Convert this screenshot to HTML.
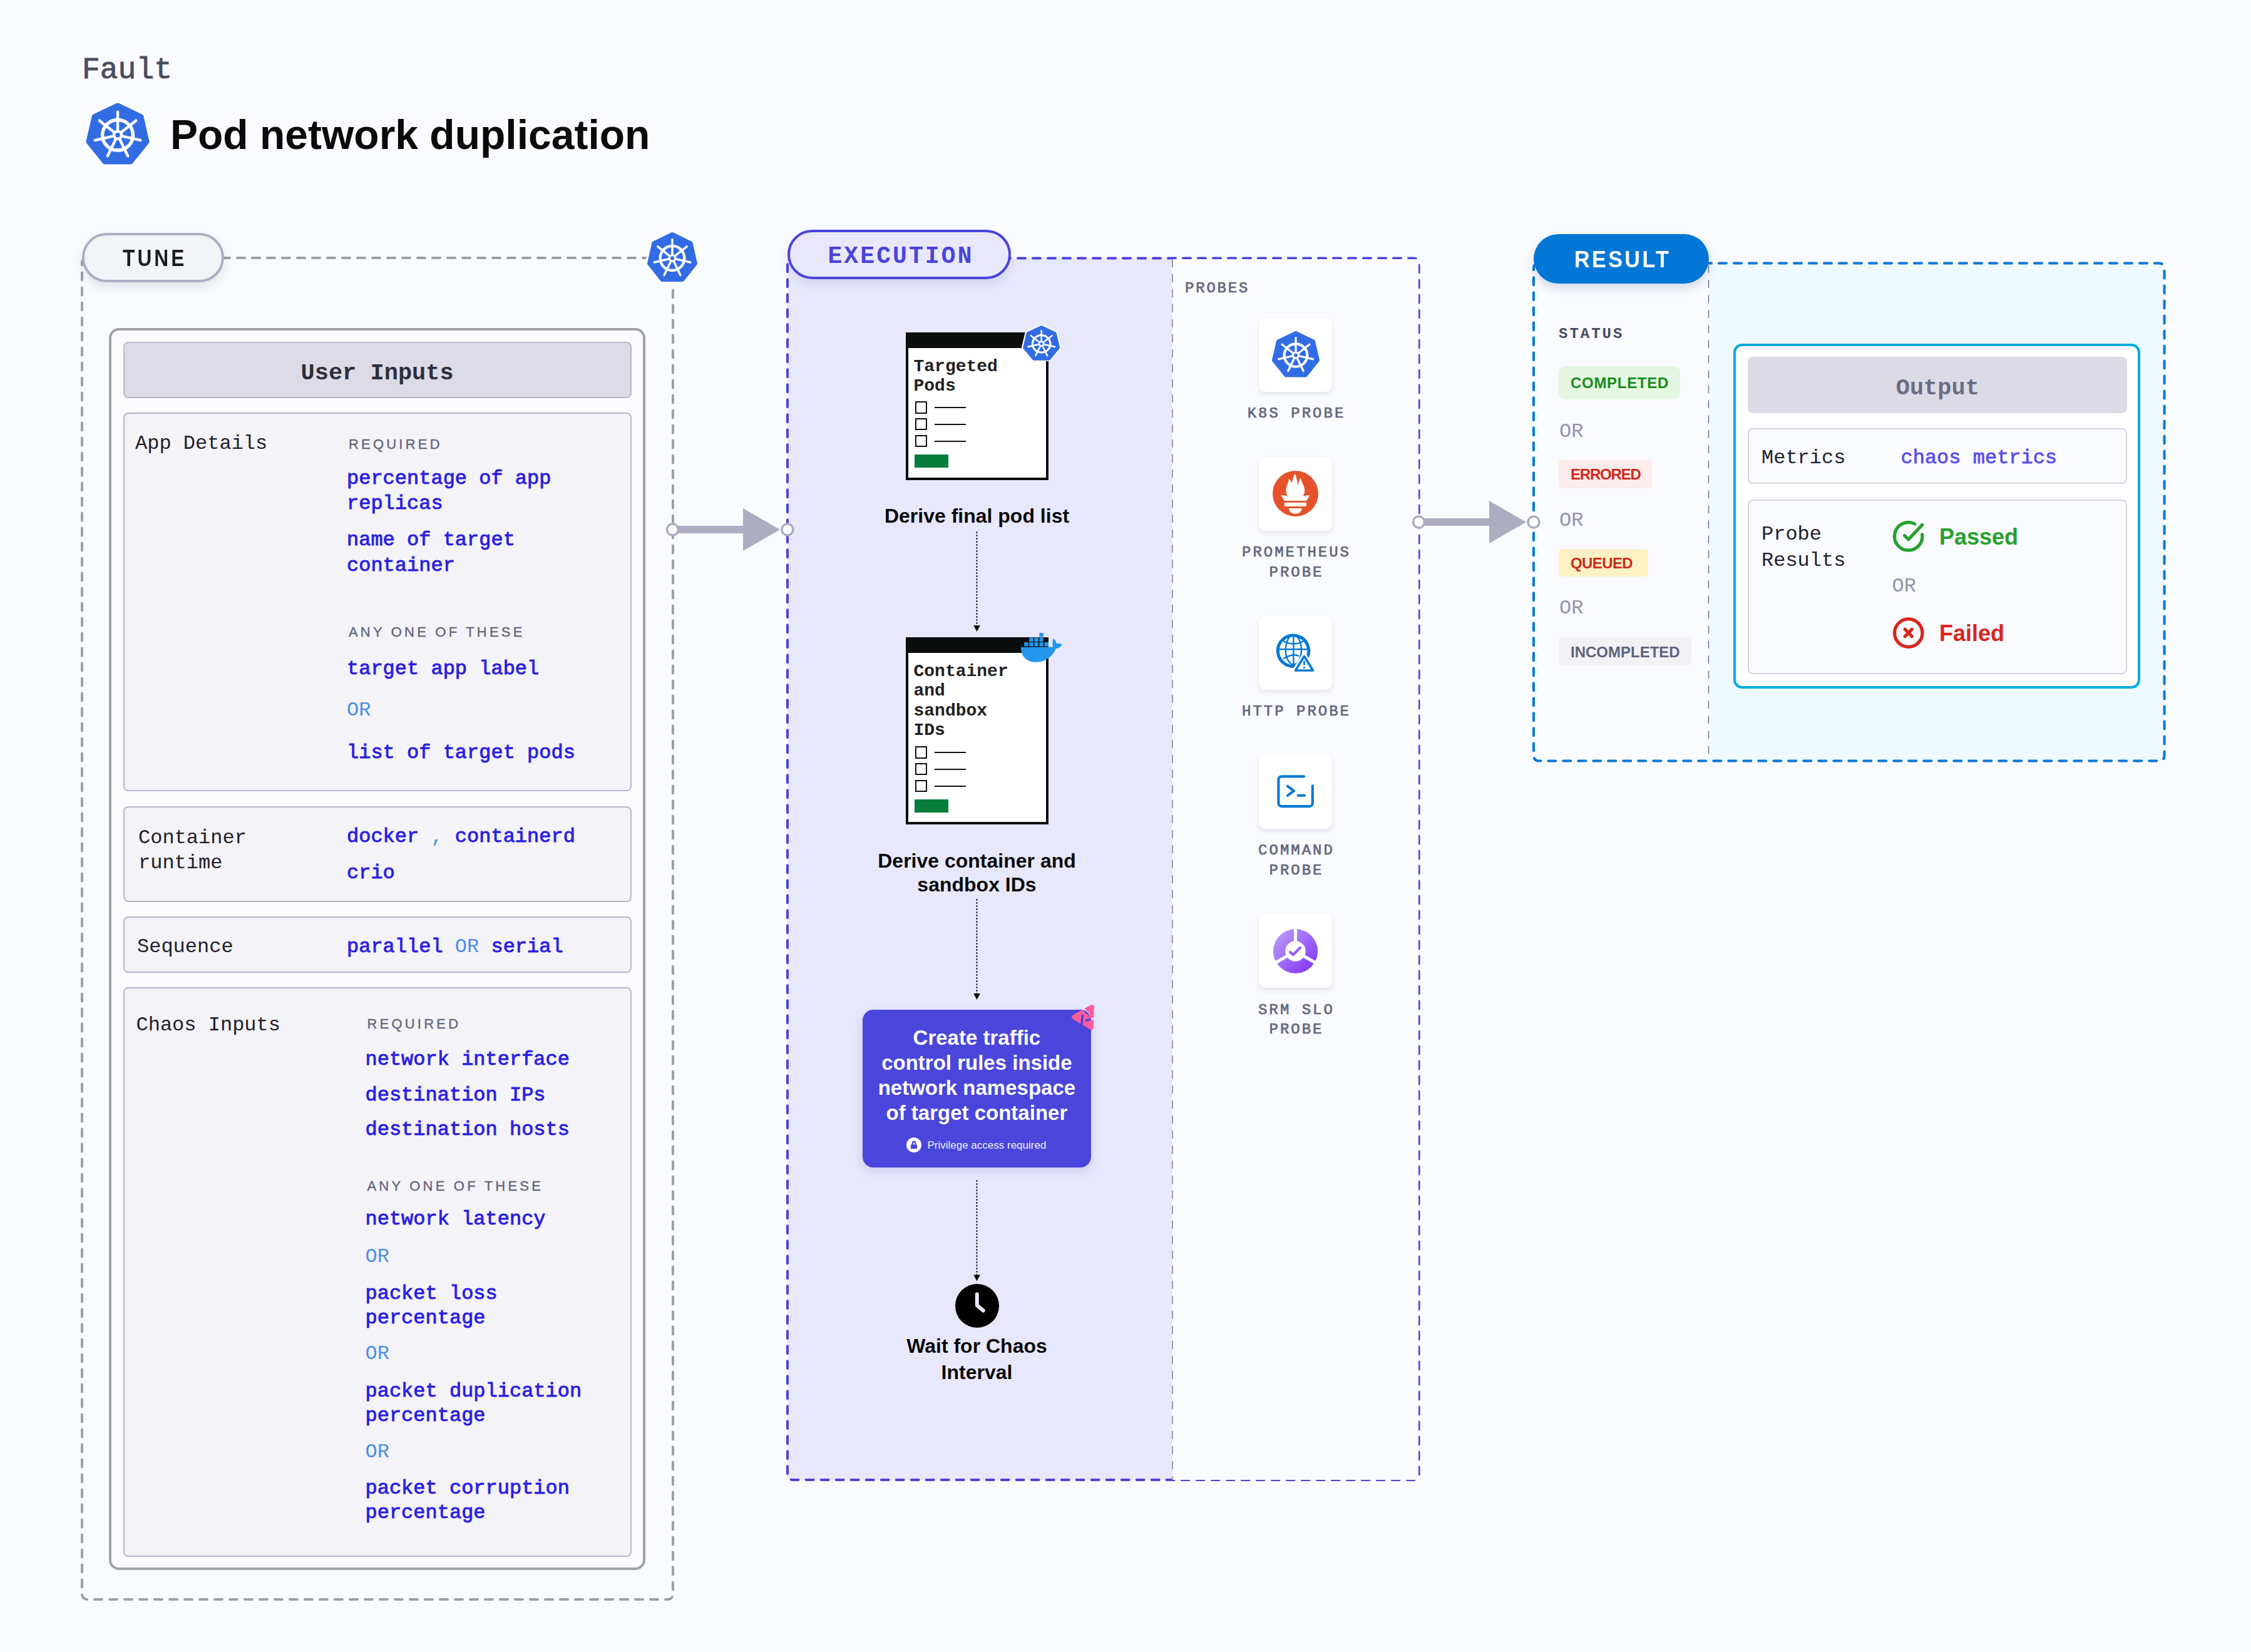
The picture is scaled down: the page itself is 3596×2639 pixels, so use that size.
<!DOCTYPE html><html><head><meta charset="utf-8"><style>html,body{margin:0;padding:0;}body{width:3596px;height:2639px;position:relative;overflow:hidden;background:#FAFBFE;}.t{position:absolute;white-space:pre;}.r{position:absolute;}</style></head><body><svg class="r" style="left:0;top:0;width:3596px;height:2639px" viewBox="0 0 3596 2639"><rect x="1258" y="412.5" width="615" height="1951.5" rx="6" fill="#E8E8FD"/><rect x="2730" y="420.5" width="727.6" height="795" fill="#EFFAFE"/><rect x="131" y="412" width="944" height="2143" rx="8" fill="none" stroke="#9A9FA8" stroke-width="4" stroke-dasharray="12 12" stroke-linecap="round"/><rect x="1258" y="412.5" width="1008.5999999999999" height="1951.5" rx="8" fill="none" stroke="#4A43DB" stroke-width="4" stroke-dasharray="12 12" stroke-linecap="round"/><rect x="1874" y="414" width="392" height="1950" fill="#FAFBFE"/><rect x="2450" y="420.5" width="1007.5999999999999" height="795.0999999999999" rx="8" fill="none" stroke="#0277D6" stroke-width="4" stroke-dasharray="12 12" stroke-linecap="round"/><line x1="1873" y1="414" x2="1873" y2="2364" stroke="#9C9DB0" stroke-width="2" stroke-dasharray="13 11"/><line x1="2729.5" y1="424" x2="2729.5" y2="1214" stroke="#6A6D85" stroke-width="1.4" stroke-dasharray="11.6 12.4" stroke-linecap="round"/><line x1="1074.5" y1="846" x2="1189" y2="846" stroke="#ADADC2" stroke-width="12"/><polygon points="1187,812 1246,846 1187,880" fill="#ADADC2"/><circle cx="1074.5" cy="846" r="9" fill="#fff" stroke="#ADADC2" stroke-width="3.5"/><circle cx="1258" cy="846" r="9" fill="#fff" stroke="#ADADC2" stroke-width="3.5"/><line x1="2266.6" y1="834" x2="2381" y2="834" stroke="#ADADC2" stroke-width="12"/><polygon points="2379,800 2438,834 2379,868" fill="#ADADC2"/><circle cx="2266.6" cy="834" r="9" fill="#fff" stroke="#ADADC2" stroke-width="3.5"/><circle cx="2450" cy="834" r="9" fill="#fff" stroke="#ADADC2" stroke-width="3.5"/><line x1="1560.5" y1="850" x2="1560.5" y2="1000" stroke="#111" stroke-width="2" stroke-dasharray="1 4" stroke-linecap="round"/><polygon points="1555.1,999 1565.9,999 1560.5,1009" fill="#111"/><line x1="1560.5" y1="1437" x2="1560.5" y2="1588" stroke="#111" stroke-width="2" stroke-dasharray="1 4" stroke-linecap="round"/><polygon points="1555.1,1587 1565.9,1587 1560.5,1597" fill="#111"/><line x1="1560.5" y1="1886" x2="1560.5" y2="2037.5" stroke="#111" stroke-width="2" stroke-dasharray="1 4" stroke-linecap="round"/><polygon points="1555.1,2036.5 1565.9,2036.5 1560.5,2046.5" fill="#111"/></svg>
<div class="t" style="left:131.0px;top:82.3px;font-family:'Liberation Mono', monospace;font-size:48px;line-height:60px;font-weight:400;color:#4B4D60;-webkit-text-stroke:0.9px #4B4D60;">Fault</div>
<svg class="r" style="left:134.2px;top:160.7px;width:108.1px;height:104.9px" viewBox="-6.40 -7.65 112.80 110.35" preserveAspectRatio="none"><polygon points="50.00,0.00 89.09,18.83 98.75,61.13 71.69,95.05 28.31,95.05 1.25,61.13 10.91,18.83" fill="#fff" stroke="#fff" stroke-width="15.30" stroke-linejoin="round"/><polygon points="50.00,0.00 89.09,18.83 98.75,61.13 71.69,95.05 28.31,95.05 1.25,61.13 10.91,18.83" fill="#326CE5" stroke="#326CE5" stroke-width="8" stroke-linejoin="round"/><circle cx="50" cy="50" r="25.5" fill="none" stroke="#fff" stroke-width="5.8"/><g stroke="#fff" stroke-width="4.6" stroke-linecap="round"><line x1="50" y1="50" x2="50.00" y2="11.00"/><line x1="50" y1="50" x2="80.49" y2="25.68"/><line x1="50" y1="50" x2="88.02" y2="58.68"/><line x1="50" y1="50" x2="66.92" y2="85.14"/><line x1="50" y1="50" x2="33.08" y2="85.14"/><line x1="50" y1="50" x2="11.98" y2="58.68"/><line x1="50" y1="50" x2="19.51" y2="25.68"/></g><circle cx="50" cy="50" r="8.5" fill="#fff"/><circle cx="50" cy="50" r="4" fill="#326CE5"/></svg>
<div class="t" style="left:272.0px;top:174.3px;font-family:'Liberation Sans', sans-serif;font-size:66px;line-height:82px;font-weight:700;color:#0A0A0A;">Pod network duplication</div>
<div class="r" style="left:131.3px;top:372px;width:227.2px;height:79px;background:#F3F4F8;border:4px solid #AEAFC4;border-radius:40px;box-sizing:border-box;box-shadow:0 8px 16px rgba(30,30,60,0.10);"></div>
<div class="t" style="left:96.8px;top:390.3px;font-family:'Liberation Sans', sans-serif;font-size:36px;line-height:45px;font-weight:700;color:#1B1D21;letter-spacing:4.6px;width:300px;text-align:center;"><span style="display:inline-block;transform:scaleX(0.88);transform-origin:center">TUNE</span></div>
<svg class="r" style="left:1031.0px;top:368.0px;width:86.0px;height:85.0px" viewBox="-6.71 -7.96 113.41 110.96" preserveAspectRatio="none"><polygon points="50.00,0.00 89.09,18.83 98.75,61.13 71.69,95.05 28.31,95.05 1.25,61.13 10.91,18.83" fill="#fff" stroke="#fff" stroke-width="15.91" stroke-linejoin="round"/><polygon points="50.00,0.00 89.09,18.83 98.75,61.13 71.69,95.05 28.31,95.05 1.25,61.13 10.91,18.83" fill="#326CE5" stroke="#326CE5" stroke-width="8" stroke-linejoin="round"/><circle cx="50" cy="50" r="25.5" fill="none" stroke="#fff" stroke-width="5.8"/><g stroke="#fff" stroke-width="4.6" stroke-linecap="round"><line x1="50" y1="50" x2="50.00" y2="11.00"/><line x1="50" y1="50" x2="80.49" y2="25.68"/><line x1="50" y1="50" x2="88.02" y2="58.68"/><line x1="50" y1="50" x2="66.92" y2="85.14"/><line x1="50" y1="50" x2="33.08" y2="85.14"/><line x1="50" y1="50" x2="11.98" y2="58.68"/><line x1="50" y1="50" x2="19.51" y2="25.68"/></g><circle cx="50" cy="50" r="8.5" fill="#fff"/><circle cx="50" cy="50" r="4" fill="#326CE5"/></svg>
<div class="r" style="left:174px;top:523.5px;width:857px;height:1984.0px;background:#FCFCFE;border:4px solid #9FA3A9;border-radius:16px;box-sizing:border-box;"></div>
<div class="r" style="left:196.5px;top:545.5px;width:812.5px;height:90.5px;background:#DCDBE6;border:2px solid #B9B8CB;border-radius:8px;box-sizing:border-box;"></div>
<div class="t" style="left:202.6px;top:573.2px;font-family:'Liberation Mono', monospace;font-size:37px;line-height:46px;font-weight:700;color:#2E2F3B;width:800px;text-align:center;">User Inputs</div>
<div class="r" style="left:196.5px;top:659px;width:812.0px;height:605px;background:#F3F3F8;border:2px solid #B6B5C8;border-radius:8px;box-sizing:border-box;"></div>
<div class="r" style="left:196.5px;top:1287.5px;width:812.0px;height:153.0px;background:#F3F3F8;border:2px solid #B6B5C8;border-radius:8px;box-sizing:border-box;"></div>
<div class="r" style="left:196.5px;top:1463.5px;width:812.0px;height:90.0px;background:#F3F3F8;border:2px solid #B6B5C8;border-radius:8px;box-sizing:border-box;"></div>
<div class="r" style="left:196.5px;top:1577px;width:812.0px;height:910px;background:#F3F3F8;border:2px solid #B6B5C8;border-radius:8px;box-sizing:border-box;"></div>
<div class="t" style="left:216.0px;top:688.5px;font-family:'Liberation Mono', monospace;font-size:32px;line-height:40px;font-weight:400;color:#1F2029;">App Details</div>
<div class="t" style="left:557.0px;top:695.8px;font-family:'Liberation Sans', sans-serif;font-size:22px;line-height:28px;font-weight:400;color:#62637A;letter-spacing:4.2px;-webkit-text-stroke:0.35px #62637A;">REQUIRED</div>
<div class="t" style="left:554.0px;top:745.3px;font-family:'Liberation Mono', monospace;font-size:32px;line-height:40px;font-weight:400;color:#2B1EE3;-webkit-text-stroke:0.9px #2B1EE3;">percentage of app</div>
<div class="t" style="left:554.0px;top:785.0px;font-family:'Liberation Mono', monospace;font-size:32px;line-height:40px;font-weight:400;color:#2B1EE3;-webkit-text-stroke:0.9px #2B1EE3;">replicas</div>
<div class="t" style="left:554.0px;top:843.3px;font-family:'Liberation Mono', monospace;font-size:32px;line-height:40px;font-weight:400;color:#2B1EE3;-webkit-text-stroke:0.9px #2B1EE3;">name of target</div>
<div class="t" style="left:554.0px;top:884.2px;font-family:'Liberation Mono', monospace;font-size:32px;line-height:40px;font-weight:400;color:#2B1EE3;-webkit-text-stroke:0.9px #2B1EE3;">container</div>
<div class="t" style="left:557.0px;top:995.7px;font-family:'Liberation Sans', sans-serif;font-size:22px;line-height:28px;font-weight:400;color:#62637A;letter-spacing:4.2px;-webkit-text-stroke:0.35px #62637A;">ANY ONE OF THESE</div>
<div class="t" style="left:554.0px;top:1048.5px;font-family:'Liberation Mono', monospace;font-size:32px;line-height:40px;font-weight:400;color:#2B1EE3;-webkit-text-stroke:0.9px #2B1EE3;">target app label</div>
<div class="t" style="left:554.0px;top:1115.1px;font-family:'Liberation Mono', monospace;font-size:32px;line-height:40px;font-weight:400;color:#4A8FE7;">OR</div>
<div class="t" style="left:554.0px;top:1182.5px;font-family:'Liberation Mono', monospace;font-size:32px;line-height:40px;font-weight:400;color:#2B1EE3;-webkit-text-stroke:0.9px #2B1EE3;">list of target pods</div>
<div class="t" style="left:221.0px;top:1319.1px;font-family:'Liberation Mono', monospace;font-size:32px;line-height:40px;font-weight:400;color:#1F2029;">Container</div>
<div class="t" style="left:221.0px;top:1359.2px;font-family:'Liberation Mono', monospace;font-size:32px;line-height:40px;font-weight:400;color:#1F2029;">runtime</div>
<div class="t" style="left:554.0px;top:1316.9px;font-family:'Liberation Mono', monospace;font-size:32px;line-height:40px;font-weight:400;color:#2B1EE3;-webkit-text-stroke:0.9px #2B1EE3;">docker <span style="color:#4A8FE7;-webkit-text-stroke:0">,</span> containerd</div>
<div class="t" style="left:554.0px;top:1375.3px;font-family:'Liberation Mono', monospace;font-size:32px;line-height:40px;font-weight:400;color:#2B1EE3;-webkit-text-stroke:0.9px #2B1EE3;">crio</div>
<div class="t" style="left:219.0px;top:1493.0px;font-family:'Liberation Mono', monospace;font-size:32px;line-height:40px;font-weight:400;color:#1F2029;">Sequence</div>
<div class="t" style="left:554.0px;top:1493.0px;font-family:'Liberation Mono', monospace;font-size:32px;line-height:40px;font-weight:400;color:#2B1EE3;-webkit-text-stroke:0.9px #2B1EE3;">parallel <span style="color:#4A8FE7;-webkit-text-stroke:0">OR</span> serial</div>
<div class="t" style="left:217.5px;top:1617.5px;font-family:'Liberation Mono', monospace;font-size:32px;line-height:40px;font-weight:400;color:#1F2029;">Chaos Inputs</div>
<div class="t" style="left:586.5px;top:1622.1px;font-family:'Liberation Sans', sans-serif;font-size:22px;line-height:28px;font-weight:400;color:#62637A;letter-spacing:4.2px;-webkit-text-stroke:0.35px #62637A;">REQUIRED</div>
<div class="t" style="left:583.5px;top:1673.1px;font-family:'Liberation Mono', monospace;font-size:32px;line-height:40px;font-weight:400;color:#2B1EE3;-webkit-text-stroke:0.9px #2B1EE3;">network interface</div>
<div class="t" style="left:583.5px;top:1729.8px;font-family:'Liberation Mono', monospace;font-size:32px;line-height:40px;font-weight:400;color:#2B1EE3;-webkit-text-stroke:0.9px #2B1EE3;">destination IPs</div>
<div class="t" style="left:583.5px;top:1785.2px;font-family:'Liberation Mono', monospace;font-size:32px;line-height:40px;font-weight:400;color:#2B1EE3;-webkit-text-stroke:0.9px #2B1EE3;">destination hosts</div>
<div class="t" style="left:586.5px;top:1881.4px;font-family:'Liberation Sans', sans-serif;font-size:22px;line-height:28px;font-weight:400;color:#62637A;letter-spacing:4.2px;-webkit-text-stroke:0.35px #62637A;">ANY ONE OF THESE</div>
<div class="t" style="left:583.5px;top:1928.1px;font-family:'Liberation Mono', monospace;font-size:32px;line-height:40px;font-weight:400;color:#2B1EE3;-webkit-text-stroke:0.9px #2B1EE3;">network latency</div>
<div class="t" style="left:583.5px;top:1987.9px;font-family:'Liberation Mono', monospace;font-size:32px;line-height:40px;font-weight:400;color:#4A8FE7;">OR</div>
<div class="t" style="left:583.5px;top:2046.5px;font-family:'Liberation Mono', monospace;font-size:32px;line-height:40px;font-weight:400;color:#2B1EE3;-webkit-text-stroke:0.9px #2B1EE3;">packet loss</div>
<div class="t" style="left:583.5px;top:2085.5px;font-family:'Liberation Mono', monospace;font-size:32px;line-height:40px;font-weight:400;color:#2B1EE3;-webkit-text-stroke:0.9px #2B1EE3;">percentage</div>
<div class="t" style="left:583.5px;top:2143.4px;font-family:'Liberation Mono', monospace;font-size:32px;line-height:40px;font-weight:400;color:#4A8FE7;">OR</div>
<div class="t" style="left:583.5px;top:2202.5px;font-family:'Liberation Mono', monospace;font-size:32px;line-height:40px;font-weight:400;color:#2B1EE3;-webkit-text-stroke:0.9px #2B1EE3;">packet duplication</div>
<div class="t" style="left:583.5px;top:2241.5px;font-family:'Liberation Mono', monospace;font-size:32px;line-height:40px;font-weight:400;color:#2B1EE3;-webkit-text-stroke:0.9px #2B1EE3;">percentage</div>
<div class="t" style="left:583.5px;top:2299.5px;font-family:'Liberation Mono', monospace;font-size:32px;line-height:40px;font-weight:400;color:#4A8FE7;">OR</div>
<div class="t" style="left:583.5px;top:2358.0px;font-family:'Liberation Mono', monospace;font-size:32px;line-height:40px;font-weight:400;color:#2B1EE3;-webkit-text-stroke:0.9px #2B1EE3;">packet corruption</div>
<div class="t" style="left:583.5px;top:2397.0px;font-family:'Liberation Mono', monospace;font-size:32px;line-height:40px;font-weight:400;color:#2B1EE3;-webkit-text-stroke:0.9px #2B1EE3;">percentage</div>
<div class="r" style="left:1258px;top:367.1px;width:357.20000000000005px;height:78.5px;background:#E8E8FD;border:4px solid #4A43DB;border-radius:40px;box-sizing:border-box;box-shadow:0 8px 16px rgba(40,40,120,0.10);"></div>
<div class="t" style="left:1239.0px;top:386.3px;font-family:'Liberation Mono', monospace;font-size:38px;line-height:48px;font-weight:700;color:#4A43DB;letter-spacing:3.1px;width:400px;text-align:center;">EXECUTION</div>
<div class="r" style="left:1446.5px;top:531.1px;width:228.0px;height:235.89999999999998px;background:#fff;border:4.2px solid #0B0C0C;box-sizing:border-box;"></div>
<div class="r" style="left:1446.5px;top:531.1px;width:228.0px;height:25.100000000000023px;background:#0B0C0C;"></div>
<div class="t" style="left:1459.5px;top:567.6px;font-family:'Liberation Mono', monospace;font-size:28px;line-height:35px;font-weight:700;color:#231F20;">Targeted</div>
<div class="t" style="left:1459.5px;top:599.3px;font-family:'Liberation Mono', monospace;font-size:28px;line-height:35px;font-weight:700;color:#231F20;">Pods</div>
<div class="r" style="left:1461.6px;top:641.2px;width:19.600000000000136px;height:19.600000000000023px;border:2.5px solid #111;box-sizing:border-box;background:#fff;"></div>
<div class="r" style="left:1492.6px;top:650.2px;width:50.90000000000009px;height:2.0px;background:#111;"></div>
<div class="r" style="left:1461.6px;top:667.9000000000001px;width:19.600000000000136px;height:19.600000000000023px;border:2.5px solid #111;box-sizing:border-box;background:#fff;"></div>
<div class="r" style="left:1492.6px;top:676.9000000000001px;width:50.90000000000009px;height:2.0px;background:#111;"></div>
<div class="r" style="left:1461.6px;top:694.6px;width:19.600000000000136px;height:19.600000000000023px;border:2.5px solid #111;box-sizing:border-box;background:#fff;"></div>
<div class="r" style="left:1492.6px;top:703.6px;width:50.90000000000009px;height:2.0px;background:#111;"></div>
<div class="r" style="left:1461px;top:725.8000000000001px;width:54px;height:20.799999999999955px;background:#067D3A;"></div>
<svg class="r" style="left:1631.8px;top:517.6px;width:63.4px;height:59.9px" viewBox="-6.68 -7.93 113.37 110.92" preserveAspectRatio="none"><polygon points="50.00,0.00 89.09,18.83 98.75,61.13 71.69,95.05 28.31,95.05 1.25,61.13 10.91,18.83" fill="#fff" stroke="#fff" stroke-width="15.87" stroke-linejoin="round"/><polygon points="50.00,0.00 89.09,18.83 98.75,61.13 71.69,95.05 28.31,95.05 1.25,61.13 10.91,18.83" fill="#326CE5" stroke="#326CE5" stroke-width="8" stroke-linejoin="round"/><circle cx="50" cy="50" r="25.5" fill="none" stroke="#fff" stroke-width="5.8"/><g stroke="#fff" stroke-width="4.6" stroke-linecap="round"><line x1="50" y1="50" x2="50.00" y2="11.00"/><line x1="50" y1="50" x2="80.49" y2="25.68"/><line x1="50" y1="50" x2="88.02" y2="58.68"/><line x1="50" y1="50" x2="66.92" y2="85.14"/><line x1="50" y1="50" x2="33.08" y2="85.14"/><line x1="50" y1="50" x2="11.98" y2="58.68"/><line x1="50" y1="50" x2="19.51" y2="25.68"/></g><circle cx="50" cy="50" r="8.5" fill="#fff"/><circle cx="50" cy="50" r="4" fill="#326CE5"/></svg>
<div class="r" style="left:1446.5px;top:1017.8px;width:228.0px;height:299.60000000000014px;background:#fff;border:4.2px solid #0B0C0C;box-sizing:border-box;"></div>
<div class="r" style="left:1446.5px;top:1017.8px;width:228.0px;height:25.600000000000136px;background:#0B0C0C;"></div>
<div class="t" style="left:1459.5px;top:1054.5px;font-family:'Liberation Mono', monospace;font-size:28px;line-height:35px;font-weight:700;color:#231F20;">Container</div>
<div class="t" style="left:1459.5px;top:1086.1px;font-family:'Liberation Mono', monospace;font-size:28px;line-height:35px;font-weight:700;color:#231F20;">and</div>
<div class="t" style="left:1459.5px;top:1117.7px;font-family:'Liberation Mono', monospace;font-size:28px;line-height:35px;font-weight:700;color:#231F20;">sandbox</div>
<div class="t" style="left:1459.5px;top:1149.3px;font-family:'Liberation Mono', monospace;font-size:28px;line-height:35px;font-weight:700;color:#231F20;">IDs</div>
<div class="r" style="left:1461.6px;top:1192.2px;width:19.600000000000136px;height:19.59999999999991px;border:2.5px solid #111;box-sizing:border-box;background:#fff;"></div>
<div class="r" style="left:1492.6px;top:1201.2px;width:50.90000000000009px;height:2.0px;background:#111;"></div>
<div class="r" style="left:1461.6px;top:1218.9px;width:19.600000000000136px;height:19.59999999999991px;border:2.5px solid #111;box-sizing:border-box;background:#fff;"></div>
<div class="r" style="left:1492.6px;top:1227.9px;width:50.90000000000009px;height:2.0px;background:#111;"></div>
<div class="r" style="left:1461.6px;top:1245.6000000000001px;width:19.600000000000136px;height:19.59999999999991px;border:2.5px solid #111;box-sizing:border-box;background:#fff;"></div>
<div class="r" style="left:1492.6px;top:1254.6000000000001px;width:50.90000000000009px;height:2.0px;background:#111;"></div>
<div class="r" style="left:1461px;top:1276.8px;width:54px;height:20.799999999999955px;background:#067D3A;"></div>
<svg class="r" style="left:1629.5px;top:1009.8px;width:70px;height:50px" viewBox="0 0 70 50"><g fill="#2496ED"><rect x="6.2" y="16" width="6.5" height="6.4"/><rect x="14.2" y="16" width="6.5" height="6.4"/><rect x="22.3" y="16" width="6.5" height="6.4"/><rect x="30.3" y="16" width="6.5" height="6.4"/><rect x="38.4" y="16" width="6.5" height="6.4"/><rect x="14.2" y="8.6" width="6.5" height="6.4"/><rect x="22.3" y="8.6" width="6.5" height="6.4"/><rect x="30.3" y="8.6" width="6.5" height="6.4"/><rect x="30.3" y="1" width="6.5" height="6.2"/><path d="M0.7,23.7 L52,23.5 C51,19 51,14 52.8,10.1 C55.5,12 57,15 57.2,17.8 C60,17 64,17.5 66.8,19.9 C64,24 60,26 56.6,26.2 C51,40 38,47.8 24.4,47.8 C10,47.8 1,38 0.7,23.7 Z"/></g></svg>
<div class="t" style="left:1260.5px;top:803.6px;font-family:'Liberation Sans', sans-serif;font-size:32px;line-height:40px;font-weight:700;color:#0A0A0A;width:600px;text-align:center;">Derive final pod list</div>
<div class="t" style="left:1260.5px;top:1354.5px;font-family:'Liberation Sans', sans-serif;font-size:32px;line-height:40px;font-weight:700;color:#0A0A0A;width:600px;text-align:center;">Derive container and</div>
<div class="t" style="left:1260.5px;top:1392.6px;font-family:'Liberation Sans', sans-serif;font-size:32px;line-height:40px;font-weight:700;color:#0A0A0A;width:600px;text-align:center;">sandbox IDs</div>
<div class="r" style="left:1377.8px;top:1612.8px;width:365.20000000000005px;height:251.9000000000001px;background:#4A46DC;border-radius:17px;box-shadow:0 6px 18px rgba(60,60,160,0.16);"></div>
<div class="t" style="left:1310.4px;top:1637.3px;font-family:'Liberation Sans', sans-serif;font-size:33px;line-height:41px;font-weight:700;color:#FFFFFF;width:500px;text-align:center;">Create traffic</div>
<div class="t" style="left:1310.4px;top:1677.1px;font-family:'Liberation Sans', sans-serif;font-size:33px;line-height:41px;font-weight:700;color:#FFFFFF;width:500px;text-align:center;">control rules inside</div>
<div class="t" style="left:1310.4px;top:1716.9px;font-family:'Liberation Sans', sans-serif;font-size:33px;line-height:41px;font-weight:700;color:#FFFFFF;width:500px;text-align:center;">network namespace</div>
<div class="t" style="left:1310.4px;top:1756.7px;font-family:'Liberation Sans', sans-serif;font-size:33px;line-height:41px;font-weight:700;color:#FFFFFF;width:500px;text-align:center;">of target container</div>
<div class="t" style="left:1376.4px;top:1818.6px;font-family:'Liberation Sans', sans-serif;font-size:17px;line-height:21px;font-weight:400;color:#F0F0FF;width:400px;text-align:center;">Privilege access required</div>
<svg class="r" style="left:1448px;top:1816.8px;width:24px;height:24px" viewBox="0 0 24 24"><circle cx="12" cy="12" r="12" fill="#fff"/><path d="M9.9,11.5 V8.7 A2.1,2.1 0 0 1 14.1,8.7 V11.5" fill="none" stroke="#4A46DC" stroke-width="2.3"/><rect x="6.9" y="11.3" width="10.1" height="6.7" fill="#4A46DC"/></svg>
<svg class="r" style="left:1705px;top:1598px;width:50px;height:54px" viewBox="1705 1598 50 54"><defs><mask id="pm" maskUnits="userSpaceOnUse" x="1705" y="1598" width="50" height="54"><rect x="1705" y="1598" width="50" height="54" fill="#fff"/><g stroke="#000" stroke-width="3.6" stroke-linecap="round"><line x1="1729.4" y1="1622.6" x2="1726.6" y2="1648"/><line x1="1739.4" y1="1620.4" x2="1727" y2="1609"/><line x1="1735.4" y1="1629.9" x2="1752" y2="1626"/></g></mask></defs><polygon mask="url(#pm)" points="1744.2,1608.5 1715.5,1624.8 1743.3,1641.6" fill="#FF5C9D" stroke="#FF5C9D" stroke-width="7" stroke-linejoin="round"/></svg>
<svg class="r" style="left:1525.5px;top:2050.9px;width:70px;height:70px" viewBox="0 0 70 70"><circle cx="35" cy="35" r="35" fill="#000"/><path d="M34.8,16.5 V34.2 L44.8,42.6" fill="none" stroke="#E8E8FD" stroke-width="6" stroke-linecap="round" stroke-linejoin="round"/></svg>
<div class="t" style="left:1260.5px;top:2130.2px;font-family:'Liberation Sans', sans-serif;font-size:32px;line-height:40px;font-weight:700;color:#0A0A0A;width:600px;text-align:center;">Wait for Chaos</div>
<div class="t" style="left:1260.5px;top:2171.7px;font-family:'Liberation Sans', sans-serif;font-size:32px;line-height:40px;font-weight:700;color:#0A0A0A;width:600px;text-align:center;">Interval</div>
<div class="t" style="left:1893.0px;top:445.7px;font-family:'Liberation Mono', monospace;font-size:24px;line-height:30px;font-weight:400;color:#62667C;letter-spacing:2.8px;-webkit-text-stroke:0.7px #62667C;">PROBES</div>
<div class="r" style="left:2010.9px;top:508px;width:117.29999999999973px;height:118px;background:#fff;border-radius:11px;box-shadow:0 4px 8px rgba(40,40,80,0.10);"></div>
<div class="r" style="left:2010.9px;top:729.8px;width:117.29999999999973px;height:118.0px;background:#fff;border-radius:11px;box-shadow:0 4px 8px rgba(40,40,80,0.10);"></div>
<div class="r" style="left:2010.9px;top:983.7px;width:117.29999999999973px;height:118.0px;background:#fff;border-radius:11px;box-shadow:0 4px 8px rgba(40,40,80,0.10);"></div>
<div class="r" style="left:2010.9px;top:1205.8px;width:117.29999999999973px;height:118.0px;background:#fff;border-radius:11px;box-shadow:0 4px 8px rgba(40,40,80,0.10);"></div>
<div class="r" style="left:2010.9px;top:1460px;width:117.29999999999973px;height:118px;background:#fff;border-radius:11px;box-shadow:0 4px 8px rgba(40,40,80,0.10);"></div>
<svg class="r" style="left:2031.8px;top:529.0px;width:76.0px;height:73.5px" viewBox="-2.76 -4.01 105.53 103.08" preserveAspectRatio="none"><polygon points="50.00,0.00 89.09,18.83 98.75,61.13 71.69,95.05 28.31,95.05 1.25,61.13 10.91,18.83" fill="#fff" stroke="#fff" stroke-width="8.03" stroke-linejoin="round"/><polygon points="50.00,0.00 89.09,18.83 98.75,61.13 71.69,95.05 28.31,95.05 1.25,61.13 10.91,18.83" fill="#326CE5" stroke="#326CE5" stroke-width="8" stroke-linejoin="round"/><circle cx="50" cy="50" r="25.5" fill="none" stroke="#fff" stroke-width="5.8"/><g stroke="#fff" stroke-width="4.6" stroke-linecap="round"><line x1="50" y1="50" x2="50.00" y2="11.00"/><line x1="50" y1="50" x2="80.49" y2="25.68"/><line x1="50" y1="50" x2="88.02" y2="58.68"/><line x1="50" y1="50" x2="66.92" y2="85.14"/><line x1="50" y1="50" x2="33.08" y2="85.14"/><line x1="50" y1="50" x2="11.98" y2="58.68"/><line x1="50" y1="50" x2="19.51" y2="25.68"/></g><circle cx="50" cy="50" r="8.5" fill="#fff"/><circle cx="50" cy="50" r="4" fill="#326CE5"/></svg>
<div class="t" style="left:1921.0px;top:645.5px;font-family:'Liberation Mono', monospace;font-size:24px;line-height:30px;font-weight:400;color:#62667C;letter-spacing:3px;width:300px;text-align:center;-webkit-text-stroke:0.7px #62667C;">K8S PROBE</div>
<div class="t" style="left:1921.0px;top:868.3px;font-family:'Liberation Mono', monospace;font-size:24px;line-height:30px;font-weight:400;color:#62667C;letter-spacing:3px;width:300px;text-align:center;-webkit-text-stroke:0.7px #62667C;">PROMETHEUS</div>
<div class="t" style="left:1921.0px;top:900.2px;font-family:'Liberation Mono', monospace;font-size:24px;line-height:30px;font-weight:400;color:#62667C;letter-spacing:3px;width:300px;text-align:center;-webkit-text-stroke:0.7px #62667C;">PROBE</div>
<div class="t" style="left:1921.0px;top:1122.2px;font-family:'Liberation Mono', monospace;font-size:24px;line-height:30px;font-weight:400;color:#62667C;letter-spacing:3px;width:300px;text-align:center;-webkit-text-stroke:0.7px #62667C;">HTTP PROBE</div>
<div class="t" style="left:1921.0px;top:1343.6px;font-family:'Liberation Mono', monospace;font-size:24px;line-height:30px;font-weight:400;color:#62667C;letter-spacing:3px;width:300px;text-align:center;-webkit-text-stroke:0.7px #62667C;">COMMAND</div>
<div class="t" style="left:1921.0px;top:1376.1px;font-family:'Liberation Mono', monospace;font-size:24px;line-height:30px;font-weight:400;color:#62667C;letter-spacing:3px;width:300px;text-align:center;-webkit-text-stroke:0.7px #62667C;">PROBE</div>
<div class="t" style="left:1921.0px;top:1598.6px;font-family:'Liberation Mono', monospace;font-size:24px;line-height:30px;font-weight:400;color:#62667C;letter-spacing:3px;width:300px;text-align:center;-webkit-text-stroke:0.7px #62667C;">SRM SLO</div>
<div class="t" style="left:1921.0px;top:1630.4px;font-family:'Liberation Mono', monospace;font-size:24px;line-height:30px;font-weight:400;color:#62667C;letter-spacing:3px;width:300px;text-align:center;-webkit-text-stroke:0.7px #62667C;">PROBE</div>
<svg class="r" style="left:2033px;top:752.1px;width:73px;height:73px" viewBox="0 0 100 100"><circle cx="50" cy="50" r="50" fill="#E6522C"/><path fill="#fff" d="M49.4,6.6 C45,12 44,20 42.5,27 C40,22 38,19 35.3,18.3 C35,26 30,33 29.5,42 C29,49 31,53 34,55.6 L19.1,53 C21,58 23,62 26.1,65.6 L73.8,65.6 C77,62 79,58 80.9,53 L66,55.6 C69,52 71,47 70,40 C69,32 63,26 61.8,15.4 C58,20 57,26 55,33 C54,22 52,14 49.4,6.6 Z"/><rect x="26.1" y="69.7" width="47.7" height="8.3" fill="#fff"/><path fill="#fff" d="M35.3,82.2 H64.3 A14.5,12 0 0 1 35.3,82.2 Z"/></svg>
<svg class="r" style="left:2035px;top:1006px;width:70px;height:72px" viewBox="2035 1006 70 72"><g fill="none" stroke="#0278D5"><path d="M2074.3,1063 A24.7,24.7 0 1 1 2088.5,1050" stroke-width="5"/><ellipse cx="2066.4" cy="1038.1" rx="12.5" ry="23.5" stroke-width="2.4"/><line x1="2066.4" y1="1014" x2="2066.4" y2="1062" stroke-width="2.4"/><line x1="2042" y1="1037.3" x2="2091" y2="1037.3" stroke-width="2.4"/><path d="M2050,1024 Q2066.4,1033 2083,1024" stroke-width="2.4"/><path d="M2050,1052 Q2066.4,1043 2075,1048" stroke-width="2.4"/></g><path d="M2083.5,1048.5 L2097.5,1071 L2069.5,1071 Z" fill="#fff" stroke="#fff" stroke-width="9" stroke-linejoin="round"/><path d="M2083.5,1048.5 L2097.5,1071 L2069.5,1071 Z" fill="#fff" stroke="#0278D5" stroke-width="3.6" stroke-linejoin="round"/><line x1="2083.5" y1="1055.5" x2="2083.5" y2="1062.5" stroke="#0278D5" stroke-width="2.6"/><circle cx="2083.5" cy="1066.2" r="1.6" fill="#0278D5"/></svg>
<svg class="r" style="left:2035px;top:1232px;width:70px;height:64px" viewBox="2035 1232 70 64"><g fill="none" stroke="#0278D5" stroke-width="4.1" stroke-linecap="round" stroke-linejoin="round"><path d="M2083.1,1240.4 H2047.4 A5,5 0 0 0 2042.4,1245.4 V1283.1 A5,5 0 0 0 2047.4,1288.1 H2091.8 A5,5 0 0 0 2096.8,1283.1 V1255.3"/><path d="M2057,1255.8 L2066.9,1263.3 L2057,1270.8"/><line x1="2073.7" y1="1270.8" x2="2084.1" y2="1270.8"/></g></svg>
<svg class="r" style="left:2034px;top:1483.7px;width:71px;height:71px" viewBox="-35.5 -35.5 71 71"><defs><linearGradient id="sg" x1="0" y1="0" x2="1" y2="1"><stop offset="0" stop-color="#C2A3FB"/><stop offset="1" stop-color="#7A2CF8"/></linearGradient></defs><circle cx="0" cy="0" r="35.5" fill="url(#sg)"/><circle cx="0" cy="0" r="16.3" fill="#fff"/><g stroke="#fff" stroke-width="5"><line x1="0" y1="0" x2="0" y2="-37"/><line x1="0" y1="0" x2="32" y2="18.5"/><line x1="0" y1="0" x2="-32" y2="18.5"/></g><path d="M-8.5,1.5 L-3.8,5.8 L7.5,-5.5" fill="none" stroke="#9A5CF8" stroke-width="4.2" stroke-linecap="round" stroke-linejoin="round"/></svg>
<div class="r" style="left:2450px;top:374px;width:279.9000000000001px;height:79px;background:#0277D6;border-radius:40px;box-shadow:0 8px 16px rgba(0,40,100,0.15);"></div>
<div class="t" style="left:2442.3px;top:392.0px;font-family:'Liberation Sans', sans-serif;font-size:36px;line-height:45px;font-weight:700;color:#FFFFFF;letter-spacing:3.5px;width:300px;text-align:center;"><span style="display:inline-block;transform:scaleX(0.95);transform-origin:center">RESULT</span></div>
<div class="t" style="left:2490.0px;top:519.0px;font-family:'Liberation Mono', monospace;font-size:24px;line-height:30px;font-weight:700;color:#474B5F;letter-spacing:3px;">STATUS</div>
<div class="r" style="left:2490.2px;top:585.1px;width:193.60000000000036px;height:52.69999999999993px;background:#E4F7E0;border-radius:10px;"></div>
<div class="t" style="left:2509.0px;top:597.0px;font-family:'Liberation Sans', sans-serif;font-size:24px;line-height:30px;font-weight:700;color:#1A8A1E;letter-spacing:0.7px;">COMPLETED</div>
<div class="t" style="left:2491.0px;top:669.5px;font-family:'Liberation Mono', monospace;font-size:32px;line-height:40px;font-weight:400;color:#9094AE;">OR</div>
<div class="r" style="left:2490.2px;top:735.3px;width:148.80000000000018px;height:44.700000000000045px;background:#FEEBEB;border-radius:5px;"></div>
<div class="t" style="left:2509.0px;top:742.7px;font-family:'Liberation Sans', sans-serif;font-size:24px;line-height:30px;font-weight:700;color:#D0281E;letter-spacing:-1.2px;">ERRORED</div>
<div class="t" style="left:2491.0px;top:811.5px;font-family:'Liberation Mono', monospace;font-size:32px;line-height:40px;font-weight:400;color:#9094AE;">OR</div>
<div class="r" style="left:2490.2px;top:877px;width:142.80000000000018px;height:43.700000000000045px;background:#FEF2C4;border-radius:5px;"></div>
<div class="t" style="left:2509.0px;top:885.3px;font-family:'Liberation Sans', sans-serif;font-size:24px;line-height:30px;font-weight:700;color:#CC2A1C;letter-spacing:-0.6px;">QUEUED</div>
<div class="t" style="left:2491.0px;top:952.3px;font-family:'Liberation Mono', monospace;font-size:32px;line-height:40px;font-weight:400;color:#9094AE;">OR</div>
<div class="r" style="left:2490.2px;top:1018px;width:211.80000000000018px;height:44px;background:#F1F1F6;border-radius:5px;"></div>
<div class="t" style="left:2509.0px;top:1026.5px;font-family:'Liberation Sans', sans-serif;font-size:24px;line-height:30px;font-weight:700;color:#5F6279;">INCOMPLETED</div>
<div class="r" style="left:2769px;top:549px;width:650px;height:551px;background:#FFFFFF;border:4px solid #02ACE3;border-radius:14px;box-sizing:border-box;"></div>
<div class="r" style="left:2791.5px;top:570.4px;width:606.9000000000001px;height:90.10000000000002px;background:#DCDBE5;border-radius:8px;"></div>
<div class="t" style="left:2795.3px;top:596.5px;font-family:'Liberation Mono', monospace;font-size:37px;line-height:46px;font-weight:700;color:#6B6D84;width:600px;text-align:center;">Output</div>
<div class="r" style="left:2792px;top:683.6px;width:606.4000000000001px;height:89.39999999999998px;background:#FAFBFE;border:2px solid #D4D3DF;border-radius:8px;box-sizing:border-box;"></div>
<div class="t" style="left:2814.0px;top:712.4px;font-family:'Liberation Mono', monospace;font-size:32px;line-height:40px;font-weight:400;color:#20212C;">Metrics</div>
<div class="t" style="left:3036.5px;top:712.4px;font-family:'Liberation Mono', monospace;font-size:32px;line-height:40px;font-weight:400;color:#5A4FEA;-webkit-text-stroke:0.8px #5A4FEA;">chaos metrics</div>
<div class="r" style="left:2792px;top:797.7px;width:606.4000000000001px;height:279.29999999999995px;background:#FAFBFE;border:2px solid #D4D3DF;border-radius:8px;box-sizing:border-box;"></div>
<div class="t" style="left:2814.0px;top:834.0px;font-family:'Liberation Mono', monospace;font-size:32px;line-height:40px;font-weight:400;color:#20212C;">Probe</div>
<div class="t" style="left:2814.0px;top:876.0px;font-family:'Liberation Mono', monospace;font-size:32px;line-height:40px;font-weight:400;color:#20212C;">Results</div>
<svg class="r" style="left:3020px;top:828px;width:58px;height:58px" viewBox="3020 828 58 58"><path d="M3058.8,837.0 A22.2,22.2 0 1 0 3070.7,853.7" fill="none" stroke="#27A02F" stroke-width="5.2" stroke-linecap="round"/><path d="M3042.6,855.6 L3048.8,861.6 L3070.8,838.4" fill="none" stroke="#27A02F" stroke-width="5.2" stroke-linecap="round" stroke-linejoin="round"/></svg>
<div class="t" style="left:3098.0px;top:835.1px;font-family:'Liberation Sans', sans-serif;font-size:36px;line-height:45px;font-weight:700;color:#27A02F;">Passed</div>
<div class="t" style="left:3022.5px;top:916.8px;font-family:'Liberation Mono', monospace;font-size:32px;line-height:40px;font-weight:400;color:#9094AE;">OR</div>
<svg class="r" style="left:3020px;top:982px;width:58px;height:58px" viewBox="3020 982 58 58"><circle cx="3048.8" cy="1011.1" r="22.2" fill="none" stroke="#D9261C" stroke-width="5.2"/><path d="M3043.3,1005.2 L3054.3,1016.6 M3054.3,1005.2 L3043.3,1016.6" fill="none" stroke="#D9261C" stroke-width="5.2" stroke-linecap="round"/></svg>
<div class="t" style="left:3098.0px;top:989.4px;font-family:'Liberation Sans', sans-serif;font-size:36px;line-height:45px;font-weight:700;color:#D9261C;">Failed</div></body></html>
